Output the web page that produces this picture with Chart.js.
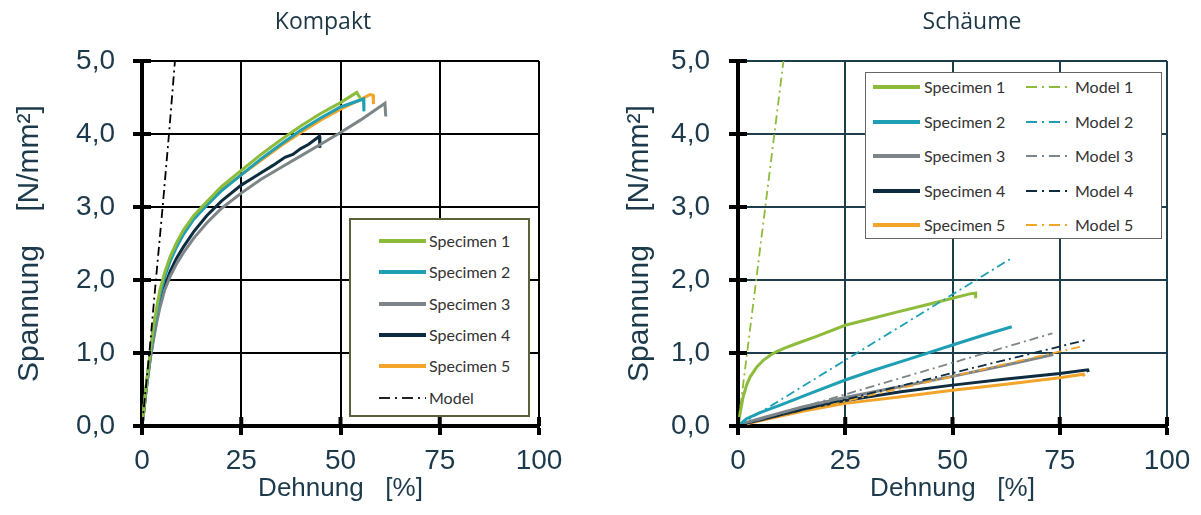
<!DOCTYPE html>
<html>
<head>
<meta charset="utf-8">
<script src="https://cdn.jsdelivr.net/npm/chart.js@4.4.1/dist/chart.umd.min.js"></script>
<style>
  body { margin: 0; background: #fff; width: 1201px; height: 515px; overflow: hidden; position: relative; }
  .wrap { position: absolute; top: 0; height: 515px; }
  #wrapL { left: 0; width: 600px; }
  #wrapR { left: 600px; width: 601px; }
  .title { position: absolute; top: 4px; font-family: 'Open Sans', sans-serif; font-size: 23px; color: #1c3646; transform: translateX(-50%); white-space: nowrap; }
  .legend { position: absolute; background: #fff; box-sizing: border-box; font-family: Lato, sans-serif; font-size: 16px; color: #333; }
  .legend .item { position: absolute; height: 20px; line-height: 20px; white-space: nowrap; }
  .legend svg { position: absolute; top: 0; left: 0; }
  .legend span { position: absolute; top: 0; }
</style>
</head>
<body>
<div class="wrap" id="wrapL"><canvas id="kompaktChart" width="600" height="515"></canvas></div>
<div class="wrap" id="wrapR"><canvas id="schaumChart" width="601" height="515"></canvas></div>
<div class="title" style="left:323px">Kompakt</div>
<div class="title" style="left:972px">Schäume</div>
<div class="legend" id="legendL" style="left:349px;top:218px;width:181px;height:199px;border:2px solid #5b6138"></div>
<div class="legend" id="legendR" style="left:865px;top:72px;width:297px;height:167px;border:1.5px solid #666"></div>
<script>
// Achsen
const xTicks = [0, 25, 50, 75, 100];
const yTicks = [0, 1, 2, 3, 4, 5];

// Kompakt: [Dehnung %, Spannung N/mm²]
const kompaktLabels = ['Specimen 1', 'Specimen 2', 'Specimen 3', 'Specimen 4', 'Specimen 5', 'Model'];
const kompakt1 = [[0,0],[0.5,0.25],[1,0.52],[1.6,0.81],[2.2,1.08],[2.9,1.36],[3.7,1.62],[4.5,1.86],[5.7,2.1],[7.1,2.32],[8.7,2.51],[10.4,2.68],[13,2.88],[16.3,3.07],[20,3.28],[25,3.5],[30,3.72],[35,3.92],[40,4.11],[45,4.28],[50,4.43],[54.1,4.57],[55,4.49]];
const kompakt2 = [[0,0],[0.5,0.24],[1,0.5],[1.6,0.78],[2.2,1.04],[2.9,1.3],[3.7,1.56],[4.5,1.79],[5.7,2.04],[7.1,2.26],[8.7,2.45],[10.4,2.62],[13,2.83],[16.3,3.02],[20,3.22],[25,3.44],[30,3.66],[35,3.86],[40,4.05],[45,4.22],[50,4.37],[55.8,4.48],[55.9,4.31]];
const kompakt3 = [[0,0],[0.5,0.22],[1,0.46],[1.6,0.72],[2.2,0.96],[2.9,1.18],[3.7,1.42],[4.5,1.62],[5.7,1.86],[7.1,2.05],[8.7,2.22],[10.4,2.37],[13,2.57],[16.3,2.78],[20,2.98],[25,3.19],[30,3.38],[35,3.54],[40,3.7],[45,3.86],[50,4.02],[55,4.19],[61.2,4.42],[61.4,4.24]];
const kompakt4 = [[0,0],[0.5,0.23],[1,0.48],[1.6,0.74],[2.2,0.98],[2.9,1.22],[3.7,1.46],[4.5,1.68],[5.7,1.92],[7.1,2.12],[8.7,2.3],[10.4,2.45],[13,2.66],[16.3,2.88],[20,3.08],[25,3.3],[28,3.4],[30,3.47],[33,3.57],[36,3.68],[38,3.72],[40,3.8],[42,3.86],[44.7,3.97],[44.8,3.81]];
const kompakt5 = [[0,0],[0.5,0.25],[1,0.51],[1.6,0.8],[2.2,1.06],[2.9,1.33],[3.7,1.59],[4.5,1.82],[5.7,2.07],[7.1,2.29],[8.7,2.48],[10.4,2.64],[13,2.85],[16.3,3.04],[20,3.24],[25,3.44],[30,3.64],[35,3.84],[40,4.02],[45,4.19],[50,4.34],[55,4.47],[57.4,4.54],[58.2,4.53],[58.3,4.41]];
const kompaktModel = [[0,0],[1.85,1],[3.5,2],[5.2,3],[6.8,4],[8.3,5]];

// Schäume
const schaumLabels = ['Specimen 1', 'Specimen 2', 'Specimen 3', 'Specimen 4', 'Specimen 5'];
const modelLabels = ['Model 1', 'Model 2', 'Model 3', 'Model 4', 'Model 5'];
const schaum1 = [[0,0],[0.5,0.18],[1.2,0.4],[2,0.56],[2.8,0.67],[4.4,0.81],[5.9,0.9],[7.5,0.97],[9,1.02],[11,1.07],[13.7,1.13],[18,1.22],[25,1.38],[31,1.47],[37,1.56],[44,1.66],[50,1.75],[54,1.81],[55.4,1.82],[55.4,1.75]];
const schaum2 = [[0,0],[2,0.1],[5,0.18],[10,0.29],[17,0.45],[25,0.63],[32,0.77],[40,0.92],[50,1.11],[57,1.24],[63.8,1.36]];
const schaum3 = [[0,0],[2,0.05],[5,0.1],[15,0.26],[25,0.39],[38,0.54],[50,0.68],[62,0.83],[73.5,0.98]];
const schaum4 = [[0,0],[2,0.04],[5,0.08],[15,0.23],[25,0.35],[38,0.47],[50,0.56],[62,0.64],[75,0.72],[81.5,0.77],[81.7,0.74]];
const schaum5 = [[0,0],[2,0.03],[5,0.07],[15,0.2],[25,0.31],[38,0.4],[50,0.49],[62,0.57],[75,0.66],[80.5,0.71],[80.7,0.68]];
const schaumModel1 = [[0,0],[10.6,5.0]];
const schaumModel2 = [[0,0],[63.8,2.3]];
const schaumModel3 = [[0,0],[73.3,1.27]];
const schaumModel4 = [[0,0],[81.3,1.18]];
const schaumModel5 = [[0,0],[80.1,1.09]];

const farben = ['#8dbb3a', '#1f9fb4', '#7d8589', '#0e2c40', '#f2a52a'];
const textFarbe = '#1c3a4c';

function punkte(serie) {
  return serie.map(p => ({ x: p[0], y: p[1] }));
}

function kurve(label, serie, farbe, modell) {
  return {
    label: label,
    data: punkte(serie),
    borderColor: farbe,
    backgroundColor: farbe,
    borderWidth: modell ? 1.8 : 3,
    borderDash: modell ? [9, 4, 2, 4] : [],
    pointRadius: 0,
    showLine: true,
    tension: 0,
    order: modell ? 0 : 1
  };
}

// Ticks, die die Achse kreuzen (innen)
const innereTicks = {
  id: 'innereTicks',
  afterDatasetsDraw(chart) {
    const { ctx, chartArea: a, scales: { x, y } } = chart;
    ctx.save();
    ctx.strokeStyle = '#000';
    ctx.lineWidth = 4;
    ctx.beginPath();
    x.ticks.forEach(t => {
      const px = x.getPixelForValue(t.value);
      ctx.moveTo(px, a.bottom);
      ctx.lineTo(px, a.bottom - 9);
    });
    y.ticks.forEach(t => {
      const py = y.getPixelForValue(t.value);
      ctx.moveTo(a.left, py);
      ctx.lineTo(a.left + 9, py);
    });
    ctx.stroke();
    ctx.restore();
  }
};

function erstelleDiagramm(id, datasets, cfg) {
  const ctx = document.getElementById(id).getContext('2d');
  return new Chart(ctx, {
    type: 'scatter',
    data: { datasets: datasets },
    plugins: [innereTicks],
    options: {
      responsive: false,
      animation: false,
      layout: { padding: { top: 61, right: cfg.rechts, bottom: 0, left: 0 } },
      plugins: { legend: { display: false }, tooltip: { enabled: false } },
      scales: {
        x: {
          type: 'linear', min: 0, max: 100,
          afterBuildTicks: s => { s.ticks = xTicks.map(v => ({ value: v })); },
          afterFit: s => { s.height = 89; },
          ticks: {
            color: textFarbe, padding: 9,
            font: { family: 'Liberation Sans', size: 28 },
            callback: v => String(v)
          },
          grid: { color: cfg.gitter, lineWidth: 2, tickColor: '#000', tickWidth: 4, tickLength: 9 },
          border: { color: '#000', width: 4 },
          title: {
            display: true, text: 'Dehnung\u00a0\u00a0\u00a0[%]', color: textFarbe,
            font: { family: 'Liberation Sans', size: 26 }, padding: { top: 0, bottom: 11 }
          }
        },
        y: {
          type: 'linear', min: 0, max: 5,
          afterBuildTicks: s => { s.ticks = yTicks.map(v => ({ value: v })); },
          afterFit: s => { s.width = cfg.links; },
          ticks: {
            color: textFarbe, padding: cfg.tickAbstand,
            font: { family: 'Liberation Sans', size: 28 },
            callback: v => v.toFixed(1).replace('.', ',')
          },
          grid: { color: cfg.gitter, lineWidth: 2, tickColor: '#000', tickWidth: 4, tickLength: 9 },
          border: { color: '#000', width: 4 },
          title: {
            display: true, text: 'Spannung\u00a0\u00a0\u00a0\u00a0[N/mm²]', color: textFarbe,
            font: { family: 'Liberation Sans', size: 30 }, padding: { top: cfg.titelAbstand, bottom: 0 }
          }
        }
      }
    }
  });
}

// Legende als HTML
function legendeEintrag(box, label, farbe, modell, links, oben, linienBreite, textLinks) {
  const item = document.createElement('div');
  item.className = 'item';
  item.style.left = links + 'px';
  item.style.top = oben + 'px';
  const dash = modell ? 'stroke-dasharray="11,5,2,5"' : '';
  item.innerHTML = '<svg width="' + linienBreite + '" height="20"><line x1="0" y1="10" x2="' + linienBreite +
    '" y2="10" stroke="' + farbe + '" stroke-width="' + (modell ? 1.8 : 4) + '" ' + dash + '/></svg>' +
    '<span style="left:' + textLinks + 'px">' + label + '</span>';
  box.appendChild(item);
}

const kompaktSerien = [kompakt1, kompakt2, kompakt3, kompakt4, kompakt5];
const kompaktDatasets = kompaktSerien.map((s, i) => kurve(kompaktLabels[i], s, farben[i], false));
kompaktDatasets.push(kurve(kompaktLabels[5], kompaktModel, '#000', true));

erstelleDiagramm('kompaktChart', kompaktDatasets, { rechts: 61, links: 142, gitter: '#000', tickAbstand: 18, titelAbstand: 12 });

const legendL = document.getElementById('legendL');
kompaktLabels.forEach((l, i) => {
  const modell = i === 5;
  legendeEintrag(legendL, l, modell ? '#222' : farben[i], modell, 28, 11 + i * 31.3, 47, 50);
});

const schaumSerien = [schaum1, schaum2, schaum3, schaum4, schaum5];
const modellSerien = [schaumModel1, schaumModel2, schaumModel3, schaumModel4, schaumModel5];
const schaumDatasets = schaumSerien.map((s, i) => kurve(schaumLabels[i], s, farben[i], false))
  .concat(modellSerien.map((s, i) => kurve(modelLabels[i], s, farben[i], true)));

erstelleDiagramm('schaumChart', schaumDatasets, { rechts: 34, links: 138, gitter: '#1d3c4c', tickAbstand: 19, titelAbstand: 22 });

const legendR = document.getElementById('legendR');
schaumLabels.forEach((l, i) => {
  legendeEintrag(legendR, l, farben[i], false, 7, 4 + i * 34.5, 47, 51);
  legendeEintrag(legendR, modelLabels[i], farben[i], true, 160, 4 + i * 34.5, 44, 49);
});
</script>
</body>
</html>
